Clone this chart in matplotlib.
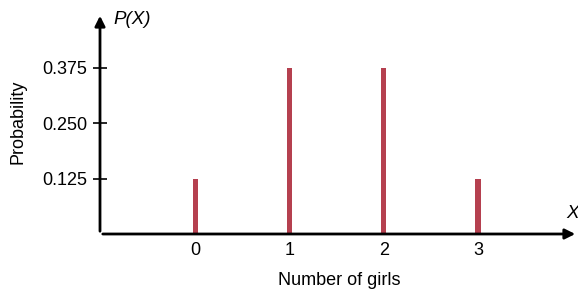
import matplotlib
matplotlib.use("Agg")
import matplotlib.pyplot as plt

girls = [0, 1, 2, 3]
prob = [0.125, 0.375, 0.375, 0.125]
ytick_vals = [0.125, 0.250, 0.375]
ytick_labels = ["0.125", "0.250", "0.375"]

plt.rcParams['font.family'] = ['Liberation Sans', 'DejaVu Sans']

fig = plt.figure(figsize=(5.78, 2.92), dpi=100)
ax = fig.add_axes([100 / 578, (292 - 234) / 292, 478 / 578, (234 - 13) / 292])

ax.bar(girls, prob, width=0.055, color="#B5404F")
ax.set_xlim(-1.01, 4.06)
ax.set_ylim(0, 0.498)

for s in ["top", "right", "left", "bottom"]:
    ax.spines[s].set_visible(False)

# axes with arrowheads
ax.annotate("", xy=(4.06, 0), xytext=(-1.01, 0),
            arrowprops=dict(arrowstyle="-|>", color="black", lw=2, mutation_scale=15),
            annotation_clip=False)
ax.annotate("", xy=(-1.01, 0.498), xytext=(-1.01, 0),
            arrowprops=dict(arrowstyle="-|>", color="black", lw=2, mutation_scale=15),
            annotation_clip=False)

ax.set_xticks(girls)
ax.set_xticklabels([str(g) for g in girls], fontsize=13)
ax.tick_params(axis="x", length=0, pad=6)
ax.set_yticks(ytick_vals)
ax.set_yticklabels(ytick_labels, fontsize=13)
ax.tick_params(axis="y", direction="inout", length=10, width=1.2, pad=4)

ax.set_xlabel("Number of girls", fontsize=13, labelpad=9)
fig.text(18 / 578, 1 - 122 / 292, "Probability", rotation=90, fontsize=13,
         ha="center", va="center")
fig.text(113 / 578, 1 - 20 / 292, "P(X)", style="italic", fontsize=13.5, ha="left", va="center")
fig.text(566 / 578, 1 - 213 / 292, "X", style="italic", fontsize=13.5, ha="left", va="center")

fig.savefig("out.png", dpi=100)
